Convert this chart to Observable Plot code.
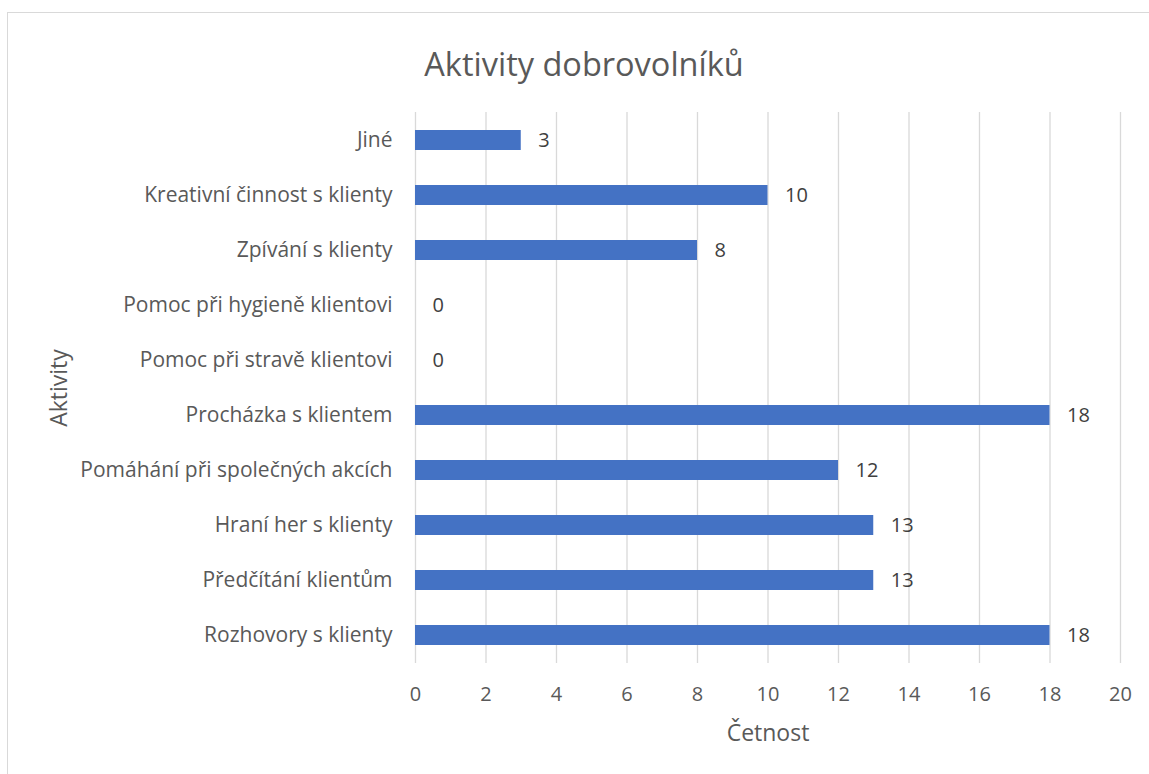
<!DOCTYPE html>
<html>
<head>
<meta charset="utf-8">
<script src="https://cdn.jsdelivr.net/npm/d3@7"></script>
<script src="https://cdn.jsdelivr.net/npm/@observablehq/plot@0.6"></script>
<style>
  html, body { margin: 0; padding: 0; background: #fff; overflow: hidden; }
  #wrap { position: relative; width: 1149px; height: 774px; overflow: hidden; }
  #border { position: absolute; left: 7px; top: 12px; width: 1300px; height: 1000px; border: 1.5px solid #d9d9d9; box-sizing: border-box; }
  #chart { position: absolute; left: 0; top: 0; }
</style>
</head>
<body>
<div id="wrap"><div id="border"></div><div id="chart"></div></div>
<script>
const title = "Aktivity dobrovolníků";
const xLabel = "Četnost";
const yLabel = "Aktivity";
const categories = [
  "Jiné",
  "Kreativní činnost s klienty",
  "Zpívání s klienty",
  "Pomoc při hygieně klientovi",
  "Pomoc při stravě klientovi",
  "Procházka s klientem",
  "Pomáhání při společných akcích",
  "Hraní her s klienty",
  "Předčítání klientům",
  "Rozhovory s klienty"
];
const values = [3, 10, 8, 0, 0, 18, 12, 13, 13, 18];
const xTicks = [0, 2, 4, 6, 8, 10, 12, 14, 16, 18, 20];

const data = categories.map((c, i) => ({cat: c, value: values[i]}));
const font = "'Open Sans', sans-serif";

const chart = Plot.plot({
  width: 1149,
  height: 774,
  marginLeft: 415,
  marginRight: 29,
  marginTop: 112,
  marginBottom: 111,
  style: {fontFamily: font, background: "transparent", overflow: "visible"},
  x: {domain: [0, 20], ticks: xTicks},
  y: {domain: categories, paddingInner: 0.64, paddingOuter: 0.32, align: 0.5},
  marks: [
    Plot.gridX(xTicks, {stroke: "#d9d9d9", strokeOpacity: 1, strokeWidth: 1.3}),
    Plot.axisX(xTicks, {tickSize: 0, tickPadding: 23, fontSize: 20, fill: "#595959", label: null}),
    Plot.axisY({tickSize: 0, tickPadding: 23, fontSize: 21, fill: "#595959", label: null}),
    Plot.barX(data, {y: "cat", x: "value", fill: "#4472C4"}),
    Plot.text(data, {y: "cat", x: "value", text: d => String(d.value), textAnchor: "start", dx: 17, fontSize: 20, fill: "#404040"}),
    Plot.text([title], {frameAnchor: "top", dx: -184, dy: -60, fontSize: 32.5, fill: "#595959"}),
    Plot.text([xLabel], {frameAnchor: "bottom", dy: 77, fontSize: 23, fill: "#595959"}),
    Plot.text([yLabel], {frameAnchor: "left", textAnchor: "middle", lineAnchor: "middle", dx: -356, rotate: -90, fontSize: 23, fill: "#595959"})
  ]
});
document.getElementById("chart").appendChild(chart);
</script>
</body>
</html>
